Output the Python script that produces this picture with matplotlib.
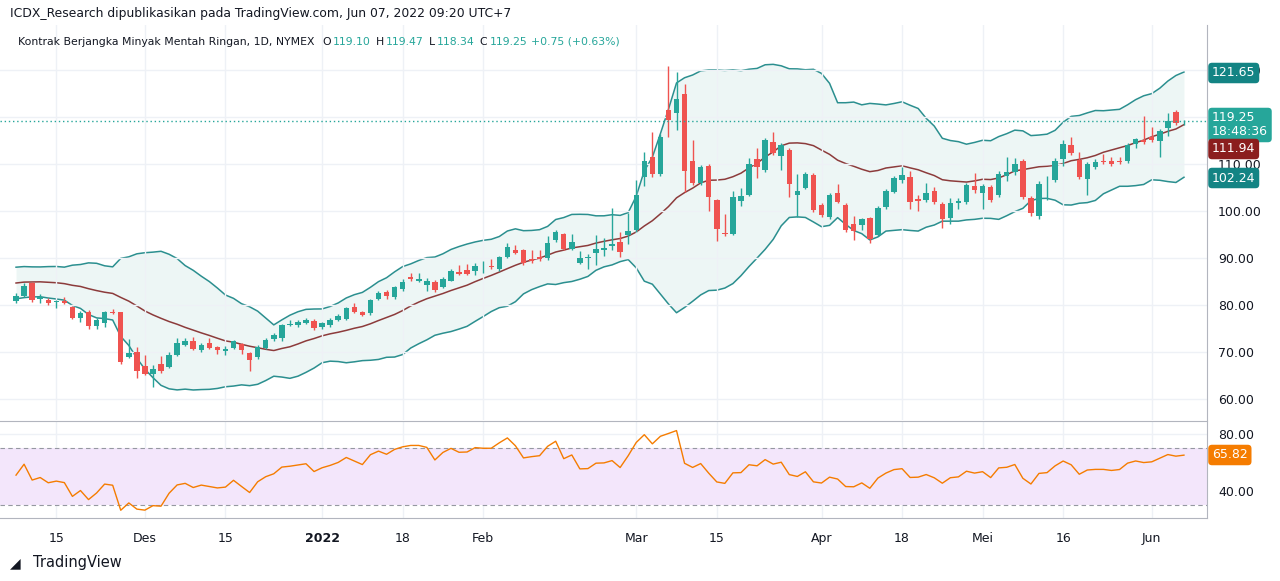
import numpy as np
import pandas as pd
import matplotlib
matplotlib.use("Agg")
import matplotlib.pyplot as plt

# ---- data ----
opens = [80.9, 81.9, 84.7, 81.2, 81.1, 80.6, 80.9, 79.5, 77.2, 78.4, 75.5, 76.2, 78.6, 78.4, 68.9, 70.0, 66.9, 65.3, 67.4, 66.7,
         69.4, 71.5, 72.3, 70.4, 71.8, 71.0, 70.1, 70.9, 71.7, 69.7, 69.0, 70.9, 72.7, 73.0, 75.8, 75.7, 76.2, 76.5, 75.4, 75.8,
         76.8, 77.1, 79.5, 78.6, 78.2, 81.2, 82.8, 81.6, 83.3, 85.9, 85.0, 84.3, 84.9, 83.9, 85.2, 87.0, 87.4, 87.3, 88.0, 88.3,
         87.7, 90.1, 91.8, 91.7, 89.7, 90.1, 89.9, 93.8, 95.0, 92.0, 89.0, 89.9, 91.1, 91.7, 92.6, 93.4, 94.9, 96.0, 107.2, 111.4,
         107.9, 121.5, 120.8, 124.9, 110.6, 105.9, 109.6, 102.3, 95.4, 95.1, 102.2, 103.5, 111.1, 108.7, 114.7, 111.7, 113.0, 103.5, 105.0, 107.7,
         101.3, 98.8, 103.8, 101.3, 97.2, 97.1, 98.5, 94.9, 100.9, 104.1, 106.5, 107.3, 102.6, 102.3, 104.2, 101.5, 98.5, 101.8, 102.0, 105.3,
         103.9, 105.2, 103.4, 107.4, 108.4, 110.7, 102.8, 98.9, 106.1, 106.7, 111.0, 114.0, 110.9, 106.9, 109.3, 110.7, 110.6, 110.5, 110.7, 114.3,
         115.1, 115.8, 114.8, 117.6, 121.1, 119.1]
closes = [81.9, 84.0, 81.1, 81.6, 80.5, 80.8, 80.5, 77.2, 78.2, 75.5, 76.7, 78.5, 78.2, 67.9, 69.7, 65.9, 65.2, 66.3, 66.0, 69.3,
          71.8, 72.3, 70.7, 71.4, 70.9, 70.4, 70.6, 72.3, 70.4, 68.3, 71.1, 72.6, 73.5, 75.7, 76.0, 76.4, 76.8, 75.0, 76.1, 76.8,
          77.7, 79.3, 78.6, 77.9, 81.1, 82.5, 81.9, 83.8, 84.9, 85.5, 85.5, 85.2, 83.1, 85.6, 87.2, 86.5, 86.6, 88.2, 88.1, 88.1,
          90.1, 92.3, 91.1, 89.0, 89.4, 89.7, 93.1, 95.5, 92.0, 93.5, 90.0, 90.1, 92.0, 92.1, 92.9, 91.3, 95.7, 103.4, 110.6, 107.8,
          115.7, 119.4, 123.8, 108.6, 106.0, 109.3, 103.0, 96.2, 95.0, 103.0, 103.2, 110.0, 109.3, 115.1, 112.3, 114.0, 105.7, 104.3, 107.9, 100.2,
          99.2, 103.4, 102.0, 96.0, 95.8, 98.2, 94.0, 100.6, 104.3, 107.0, 107.7, 102.0, 102.2, 103.9, 101.9, 98.4, 101.6, 102.1, 105.5, 104.5,
          105.3, 102.3, 107.9, 108.3, 110.0, 103.0, 99.5, 105.7, 106.2, 110.7, 114.3, 112.4, 107.2, 110.0, 110.4, 110.4, 109.9, 110.4, 114.0, 115.3,
          114.7, 115.1, 117.1, 119.2, 118.7, 119.25]
highs = [82.6, 84.6, 84.9, 82.3, 81.5, 81.1, 81.6, 79.8, 78.7, 78.9, 77.2, 78.8, 79.1, 78.6, 72.7, 71.0, 69.3, 67.2, 69.2, 70.0,
         72.9, 72.9, 73.1, 71.8, 72.9, 71.3, 71.2, 72.6, 72.0, 70.0, 71.4, 73.0, 74.0, 75.9, 76.8, 76.8, 77.3, 76.9, 76.4, 77.3,
         78.1, 79.6, 80.4, 78.8, 81.3, 82.9, 83.1, 84.1, 85.5, 86.9, 86.8, 85.8, 85.4, 86.0, 87.6, 88.4, 88.7, 88.9, 89.3, 89.7,
         90.5, 93.1, 92.8, 91.9, 91.6, 91.6, 94.7, 96.0, 95.4, 95.0, 91.5, 90.8, 94.9, 94.2, 100.6, 95.6, 99.5, 106.7, 112.5, 116.8,
         116.3, 130.9, 129.6, 127.0, 115.1, 109.8, 110.0, 102.6, 99.4, 104.2, 104.8, 111.3, 113.4, 115.6, 116.8, 114.4, 113.4, 107.9, 108.4, 108.0,
         101.6, 103.8, 105.7, 101.7, 98.9, 98.6, 98.8, 101.1, 104.7, 107.5, 109.4, 108.5, 103.4, 105.9, 105.1, 101.9, 102.7, 102.7, 106.0, 108.0,
         105.8, 105.6, 108.5, 111.4, 111.2, 111.1, 103.2, 106.4, 107.5, 111.3, 115.1, 115.7, 112.6, 110.4, 111.1, 112.1, 111.4, 111.4, 114.4, 115.6,
         120.2, 117.9, 117.4, 120.8, 121.4, 119.47]
lows = [80.5, 81.6, 80.7, 80.4, 79.9, 79.3, 80.2, 77.0, 76.4, 74.8, 74.8, 75.2, 78.0, 67.4, 68.6, 64.4, 65.0, 62.5, 65.6, 66.5,
        69.2, 71.2, 70.3, 70.0, 70.6, 69.5, 69.3, 70.6, 69.6, 66.0, 68.4, 70.6, 72.4, 72.4, 75.5, 75.2, 75.9, 74.6, 74.8, 75.3,
        76.5, 76.8, 78.3, 77.6, 77.9, 81.0, 81.3, 81.3, 83.0, 85.0, 84.8, 82.9, 82.8, 83.6, 85.0, 86.3, 86.3, 86.4, 86.9, 87.7,
        87.3, 89.9, 90.8, 88.6, 89.0, 89.4, 89.6, 93.5, 91.6, 91.8, 88.7, 87.6, 88.5, 90.5, 91.7, 90.1, 93.0, 95.5, 105.4, 107.3,
        107.4, 115.8, 117.2, 104.1, 105.6, 105.5, 99.9, 93.7, 94.6, 94.8, 101.1, 103.1, 107.1, 108.4, 111.9, 108.7, 103.0, 98.8, 104.7, 99.8,
        98.8, 98.4, 101.7, 95.6, 93.8, 96.0, 93.1, 94.6, 100.5, 103.8, 106.0, 100.5, 99.9, 102.0, 101.5, 96.3, 97.2, 100.5, 101.5, 103.9,
        100.4, 101.9, 103.0, 106.4, 107.6, 102.5, 98.9, 98.4, 102.3, 106.2, 109.5, 112.0, 106.8, 103.5, 108.9, 110.0, 109.5, 110.0, 110.3, 113.4,
        114.3, 114.7, 111.4, 115.9, 118.3, 118.34]
# closes before the first visible bar (for band / RSI warm-up)
prior_closes = [80.5, 80.6, 80.4, 81.3, 82.3, 82.4, 83.9, 83.4, 82.5, 83.8,
                83.8, 84.6, 82.7, 82.8, 83.6, 84.0, 83.9, 80.9, 78.8, 81.3]

tick_pos = [5, 16, 26, 38, 48, 58, 77, 87, 100, 110, 120, 130, 141]
tick_lbl = ["15", "Des", "15", "2022", "18", "Feb", "Mar", "15", "Apr", "18", "Mei", "16", "Jun"]
price_ticks = [60, 70, 80, 90, 100, 110, 120, 130]
rsi_ticks = [40, 80]
bb_upper_last, bb_mid_last, bb_lower_last, rsi_last = 121.65, 111.94, 102.24, 65.82

# ---- indicators ----
n_prior = len(prior_closes)
allc = pd.Series(prior_closes + closes)
mid = allc.rolling(20, min_periods=1).mean()
sd = allc.rolling(20, min_periods=1).std(ddof=0)
upper = (mid + 2 * sd).values[n_prior:]
lower = (mid - 2 * sd).values[n_prior:]
mid = mid.values[n_prior:]
delta = allc.diff()
gain = delta.clip(lower=0).ewm(alpha=1 / 14, adjust=False).mean()
loss = (-delta.clip(upper=0)).ewm(alpha=1 / 14, adjust=False).mean()
rsi = (100 - 100 / (1 + gain / loss)).values[n_prior:]

GREEN, RED = "#26a69a", "#ef5350"
BAND = "#2b8f8f"
GRID = "#eef1f6"
TXT = "#131722"
W, H = 1280, 581
x = np.arange(len(closes))

fig = plt.figure(figsize=(12.8, 5.81), dpi=100)
axw = 1207 / W
ax = fig.add_axes([0, 1 - 420 / H, axw, 395 / H])
ax2 = fig.add_axes([0, 1 - 518 / H, axw, 97 / H], sharex=ax)
# Bollinger bands sit on their own (auto-fitted) scale, as in the original
axb = ax.twinx()

ylo, yhi = 55.5, 139.6
ax.set_ylim(ylo, yhi)
axb.set_ylim((ylo + 9.32) / 1.14, (yhi + 9.32) / 1.14)
axb.axis("off")
axb.fill_between(x, lower, upper, color="#e6f3f2", alpha=0.7, lw=0, zorder=0)
axb.plot(x, upper, color=BAND, lw=1.1)
axb.plot(x, lower, color=BAND, lw=1.1)
axb.plot(x, mid, color="#8c3b3b", lw=1.1)
ax.set_zorder(axb.get_zorder() + 1)
ax.patch.set_visible(False)

o, c, h, l = map(np.array, (opens, closes, highs, lows))
cols = np.where(c >= o, GREEN, RED)
ax.vlines(x, l, h, colors=cols, lw=1)
body = np.maximum(np.abs(c - o), 0.15)
ax.bar(x, body, bottom=np.minimum(o, c), width=0.68, color=cols, lw=0)
ax.axhline(closes[-1], color=GREEN, lw=1, ls=(0, (1, 2)))
ax.set_xlim(-1.99, 147.86)
ax.set_yticks(price_ticks)
# 120 is hidden behind the last-price badge in the original
ax.set_yticklabels(["" if v == 120 else f"{v:.2f}" for v in price_ticks])

# rsi panel
ax2.axhspan(30, 70, color="#f3e6fb", lw=0)
ax2.axhline(70, color="#9598a1", lw=0.8, ls=(0, (4, 3)))
ax2.axhline(30, color="#9598a1", lw=0.8, ls=(0, (4, 3)))
ax2.plot(x, rsi, color="#f57c00", lw=1)
ax2.set_ylim(21.05, 89.1)
ax2.set_yticks(rsi_ticks)
ax2.set_yticklabels([f"{v:.2f}" for v in rsi_ticks])
ax2.set_xticks(tick_pos)
ax2.set_xticklabels(tick_lbl)
for t, lbl in zip(ax2.get_xticklabels(), tick_lbl):
    if lbl == "2022":
        t.set_fontweight("bold")

for a in (ax, ax2):
    a.yaxis.tick_right()
    a.grid(True, color=GRID, lw=1)
    a.set_axisbelow(True)
    for s in ("left", "top", "bottom"):
        a.spines[s].set_visible(False)
    a.spines["right"].set_color("#b2b5be")
    a.tick_params(length=0, labelsize=9, colors=TXT, pad=8)
ax.tick_params(axis="x", labelbottom=False)
ax2.spines["top"].set_visible(True)
ax2.spines["top"].set_color("#b2b5be")
ax2.spines["bottom"].set_visible(True)
ax2.spines["bottom"].set_color("#b2b5be")
ax2.tick_params(axis="x", pad=10)


def badge(ypix, text, color):
    fig.text(1212 / W, 1 - ypix / H, text, va="center", ha="left", color="white", fontsize=9,
             zorder=10, linespacing=1.1,
             bbox=dict(boxstyle="round,pad=0.3", fc=color, ec="none"))


badge(73, f"{bb_upper_last:.2f}", "#138484")
badge(125, f"{closes[-1]:.2f}\n18:48:36", GREEN)
badge(149, f"{bb_mid_last:.2f}", "#8b1e1e")
badge(178, f"{bb_lower_last:.2f}", "#138484")
badge(455, f"{rsi_last:.2f}", "#f57c00")

# header texts
fig.text(10 / W, 1 - 13 / H, "ICDX_Research dipublikasikan pada TradingView.com, Jun 07, 2022 09:20 UTC+7",
         fontsize=8.9, color=TXT, va="center")
parts = [("Kontrak Berjangka Minyak Mentah Ringan, 1D, NYMEX", TXT, 8),
         ("O", TXT, 2), ("119.10", GREEN, 5), ("H", TXT, 2), ("119.47", GREEN, 5),
         ("L", TXT, 2), ("118.34", GREEN, 5), ("C", TXT, 2), ("119.25", GREEN, 4),
         ("+0.75 (+0.63%)", GREEN, 0)]
renderer = fig.canvas.get_renderer()
px = 18
for s, col, gap in parts:
    t = fig.text(px / W, 1 - 42 / H, s, fontsize=7.8, color=col, va="center")
    px = t.get_window_extent(renderer).x1 + gap
fig.text(33 / W, 1 - 563 / H, "TradingView", fontsize=10.5, color=TXT, va="center")
fig.text(10 / W, 1 - 563 / H, "◢", fontsize=10, color=TXT, va="center")

fig.savefig("out.png", dpi=100)
